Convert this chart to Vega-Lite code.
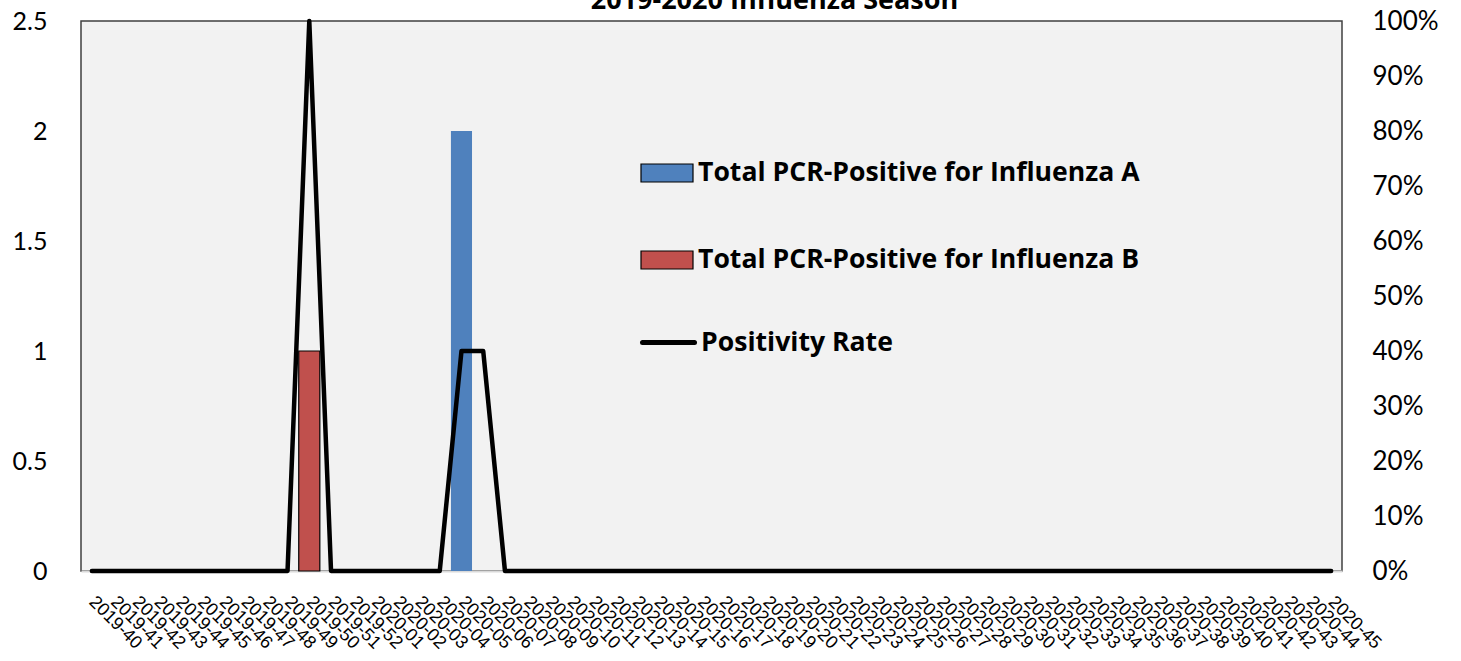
{
  "$schema": "https://vega.github.io/schema/vega-lite/v6.json",
  "autosize": "none",
  "width": 1261,
  "height": 550,
  "padding": {"left": 81, "top": 21, "right": 119, "bottom": 90},
  "background": "white",
  "title": {"text": "2019-2020 Influenza Season", "font": "Open Sans", "fontSize": 27, "fontWeight": "bold", "color": "black", "anchor": "middle", "frame": "group", "dx": 63, "dy": 28, "offset": 0, "baseline": "alphabetic"},
  "config": {"view": {"fill": "#F2F2F2", "stroke": "#404040", "strokeWidth": 1.5}, "font": "Lato"},
  "data": {"values": [
    {"week": "2019-40", "A": 0, "B": 0, "rate": 0},
    {"week": "2019-41", "A": 0, "B": 0, "rate": 0},
    {"week": "2019-42", "A": 0, "B": 0, "rate": 0},
    {"week": "2019-43", "A": 0, "B": 0, "rate": 0},
    {"week": "2019-44", "A": 0, "B": 0, "rate": 0},
    {"week": "2019-45", "A": 0, "B": 0, "rate": 0},
    {"week": "2019-46", "A": 0, "B": 0, "rate": 0},
    {"week": "2019-47", "A": 0, "B": 0, "rate": 0},
    {"week": "2019-48", "A": 0, "B": 0, "rate": 0},
    {"week": "2019-49", "A": 0, "B": 0, "rate": 0},
    {"week": "2019-50", "A": 0, "B": 1, "rate": 1},
    {"week": "2019-51", "A": 0, "B": 0, "rate": 0},
    {"week": "2019-52", "A": 0, "B": 0, "rate": 0},
    {"week": "2020-01", "A": 0, "B": 0, "rate": 0},
    {"week": "2020-02", "A": 0, "B": 0, "rate": 0},
    {"week": "2020-03", "A": 0, "B": 0, "rate": 0},
    {"week": "2020-04", "A": 0, "B": 0, "rate": 0},
    {"week": "2020-05", "A": 2, "B": 0, "rate": 0.4},
    {"week": "2020-06", "A": 0, "B": 0, "rate": 0.4},
    {"week": "2020-07", "A": 0, "B": 0, "rate": 0},
    {"week": "2020-08", "A": 0, "B": 0, "rate": 0},
    {"week": "2020-09", "A": 0, "B": 0, "rate": 0},
    {"week": "2020-10", "A": 0, "B": 0, "rate": 0},
    {"week": "2020-11", "A": 0, "B": 0, "rate": 0},
    {"week": "2020-12", "A": 0, "B": 0, "rate": 0},
    {"week": "2020-13", "A": 0, "B": 0, "rate": 0},
    {"week": "2020-14", "A": 0, "B": 0, "rate": 0},
    {"week": "2020-15", "A": 0, "B": 0, "rate": 0},
    {"week": "2020-16", "A": 0, "B": 0, "rate": 0},
    {"week": "2020-17", "A": 0, "B": 0, "rate": 0},
    {"week": "2020-18", "A": 0, "B": 0, "rate": 0},
    {"week": "2020-19", "A": 0, "B": 0, "rate": 0},
    {"week": "2020-20", "A": 0, "B": 0, "rate": 0},
    {"week": "2020-21", "A": 0, "B": 0, "rate": 0},
    {"week": "2020-22", "A": 0, "B": 0, "rate": 0},
    {"week": "2020-23", "A": 0, "B": 0, "rate": 0},
    {"week": "2020-24", "A": 0, "B": 0, "rate": 0},
    {"week": "2020-25", "A": 0, "B": 0, "rate": 0},
    {"week": "2020-26", "A": 0, "B": 0, "rate": 0},
    {"week": "2020-27", "A": 0, "B": 0, "rate": 0},
    {"week": "2020-28", "A": 0, "B": 0, "rate": 0},
    {"week": "2020-29", "A": 0, "B": 0, "rate": 0},
    {"week": "2020-30", "A": 0, "B": 0, "rate": 0},
    {"week": "2020-31", "A": 0, "B": 0, "rate": 0},
    {"week": "2020-32", "A": 0, "B": 0, "rate": 0},
    {"week": "2020-33", "A": 0, "B": 0, "rate": 0},
    {"week": "2020-34", "A": 0, "B": 0, "rate": 0},
    {"week": "2020-35", "A": 0, "B": 0, "rate": 0},
    {"week": "2020-36", "A": 0, "B": 0, "rate": 0},
    {"week": "2020-37", "A": 0, "B": 0, "rate": 0},
    {"week": "2020-38", "A": 0, "B": 0, "rate": 0},
    {"week": "2020-39", "A": 0, "B": 0, "rate": 0},
    {"week": "2020-40", "A": 0, "B": 0, "rate": 0},
    {"week": "2020-41", "A": 0, "B": 0, "rate": 0},
    {"week": "2020-42", "A": 0, "B": 0, "rate": 0},
    {"week": "2020-43", "A": 0, "B": 0, "rate": 0},
    {"week": "2020-44", "A": 0, "B": 0, "rate": 0},
    {"week": "2020-45", "A": 0, "B": 0, "rate": 0}
  ]},
  "layer": [
    {
      "transform": [
        {"fold": ["A", "B"], "as": ["series", "count"]},
        {"filter": "datum.count > 0"}
      ],
      "mark": {"type": "bar", "stroke": "black", "strokeWidth": 1.2},
      "encoding": {
        "x": {"field": "week", "type": "ordinal", "sort": "ascending",
          "scale": {"paddingInner": 0.03, "paddingOuter": 0.015},
          "axis": {"title": null, "labelAngle": 45, "labelAlign": "left", "labelBaseline": "middle", "labelFont": "Liberation Sans", "labelFontSize": 18, "labelColor": "black", "labelPadding": 28, "ticks": false, "domainColor": "#D9D9D9", "domainWidth": 2, "labelOverlap": false}},
        "y": {"field": "count", "type": "quantitative", "stack": "zero",
          "scale": {"domain": [0, 2.5]},
          "axis": {"title": null, "values": [0, 0.5, 1, 1.5, 2, 2.5], "format": "~g", "grid": false, "ticks": false, "domain": false, "labelFont": "Lato", "labelFontSize": 25, "labelColor": "black", "labelPadding": 34}},
        "color": {"field": "series", "type": "nominal",
          "scale": {"domain": ["A", "B"], "range": ["#4F81BD", "#C0504D"]},
          "legend": {"orient": "none", "legendX": 559, "legendY": 125, "title": null,
            "labelExpr": "datum.value === 'A' ? 'Total PCR-Positive for Influenza A' : 'Total PCR-Positive for Influenza B'",
            "symbolType": "M-1,-0.346H1V0.346H-1Z", "symbolSize": 2704, "symbolStrokeWidth": 1.2, "symbolOpacity": 1,
            "labelFont": "Open Sans", "labelFontSize": 26.6, "labelFontWeight": "bold", "labelColor": "black", "labelLimit": 0, "rowPadding": 46, "labelOffset": 4,
            "encode": {"symbols": {"update": {"stroke": [{"test": "datum.value === 'B'", "value": "black"}, {"value": "transparent"}]}}}}},
        "strokeOpacity": {"condition": {"test": "datum.series === 'B'", "value": 1}, "value": 0}
      }
    },
    {
      "mark": {"type": "line", "color": "black", "strokeWidth": 4.5, "strokeCap": "round", "strokeJoin": "round"},
      "encoding": {
        "x": {"field": "week", "type": "ordinal", "sort": "ascending"},
        "y": {"field": "rate", "type": "quantitative",
          "scale": {"domain": [0, 1]},
          "axis": {"orient": "right", "title": null, "format": ".0%", "values": [0, 0.1, 0.2, 0.3, 0.4, 0.5, 0.6, 0.7, 0.8, 0.9, 1], "grid": false, "ticks": false, "domain": false, "labelFont": "Lato", "labelFontSize": 26, "labelColor": "black", "labelPadding": 30}},
        "stroke": {"datum": "Positivity Rate", "type": "nominal",
          "scale": {"range": ["black"]},
          "legend": {"orient": "none", "legendX": 559, "legendY": 293, "title": null,
            "symbolType": "stroke", "symbolSize": 2704, "symbolStrokeWidth": 5,
            "labelFont": "Open Sans", "labelFontSize": 26.6, "labelFontWeight": "bold", "labelColor": "black", "labelLimit": 0, "labelOffset": 4,
            "encode": {"symbols": {"update": {"strokeCap": {"value": "round"}}}}}}
      }
    }
  ],
  "resolve": {"scale": {"y": "independent", "color": "independent", "stroke": "independent"}}
}
